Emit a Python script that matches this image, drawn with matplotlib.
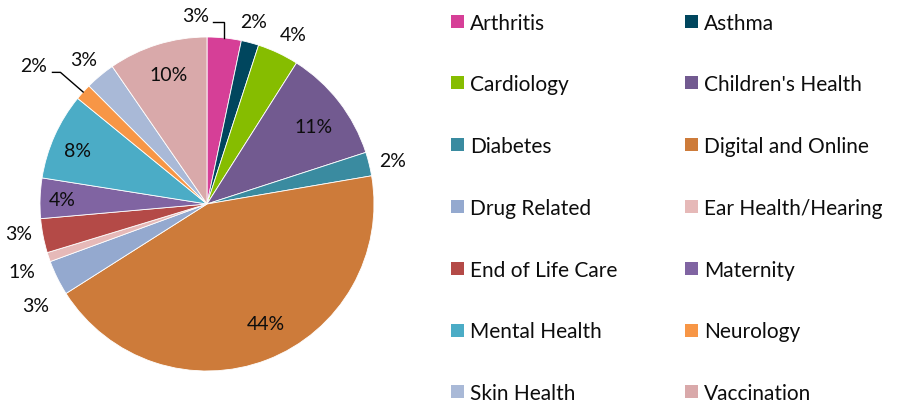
import numpy as np
import matplotlib.pyplot as plt
from matplotlib.patches import Rectangle

plt.rcParams["font.family"] = ["Lato", "DejaVu Sans"]

categories = [
    "Arthritis", "Asthma", "Cardiology", "Children's Health", "Diabetes",
    "Digital and Online", "Drug Related", "Ear Health/Hearing",
    "End of Life Care", "Maternity", "Mental Health", "Neurology",
    "Skin Health", "Vaccination",
]
shares = [3.3, 1.7, 4.0, 11.0, 2.3, 43.7, 3.4, 0.9, 3.3, 3.9, 8.4, 1.6, 2.9, 9.6]
colors = [
    "#D63F97", "#00465E", "#86BD00", "#725A90", "#3A8BA0", "#CD7B3A",
    "#94A9CF", "#E6B9B8", "#B44A47", "#8064A2", "#4BACC6", "#F79646",
    "#A9B9D7", "#D9A9AA",
]

# label placement: radial distance (pie radius = 1) and angular nudge (deg, ccw)
label_dist = [1.13, 1.13, 1.14, 0.79, 1.14, 0.80, 1.19, 1.18, 1.14, 0.87, 0.84, 1.33, 1.14, 0.81]
label_shift = [9.5, 0.8, -1.6, -1.7, -0.5, 5.1, 4.3, 1.5, -2.0, 0.4, 1.5, 3.5, 0.7, -0.6]
leader = {0: "arthritis", 11: "neuro"}

W, H, DPI = 897, 406, 100
R_PX, CX, CY = 167, 207, 205
TEXT = "#0d0d0d"
FS_PCT = 14
FS_LEG = 15

fig = plt.figure(figsize=(W / DPI, H / DPI), dpi=DPI)
ax = fig.add_axes([0, 0, 2 * CX / W, 1])
wedges, _ = ax.pie(
    shares,
    colors=colors,
    startangle=90,
    counterclock=False,
    radius=1,
    wedgeprops=dict(edgecolor="white", linewidth=0.6),
)
ax.set_aspect("auto")
ax.set_xlim(-CX / R_PX, CX / R_PX)
ax.set_ylim(-(H - CY) / R_PX, CY / R_PX)
ax.axis("off")

total = sum(shares)
for i, w in enumerate(wedges):
    mid = np.deg2rad((w.theta1 + w.theta2) / 2)
    ang = mid + np.deg2rad(label_shift[i])
    d = label_dist[i]
    tx, ty = d * np.cos(ang), d * np.sin(ang)
    ax.text(tx, ty, f"{shares[i] / total * 100:.0f}%", ha="center", va="center",
            fontsize=FS_PCT, color=TEXT)
    if i in leader:
        rx, ry = np.cos(mid), np.sin(mid)
        if leader[i] == "arthritis":
            x0 = tx + 18 / R_PX
            ax.plot([x0, rx, rx], [ty - 6 / R_PX, ty - 6 / R_PX, ry],
                    color="black", lw=1.0, solid_joinstyle="miter")
        else:
            x0 = tx + 19 / R_PX
            ax.plot([x0, x0 + 8 / R_PX, rx], [ty - 7 / R_PX, ty - 7 / R_PX, ry],
                    color="black", lw=1.0)

# legend: two columns, row-major
col_x = [451, 685]
row_y0, row_step = 22, 61.8
sq = 13
for i, name in enumerate(categories):
    r, c = divmod(i, 2)
    yc = row_y0 + r * row_step
    fig.patches.append(Rectangle(
        (col_x[c] / W, 1 - (yc + sq / 2) / H), sq / W, sq / H,
        transform=fig.transFigure, facecolor=colors[i], edgecolor="none"))
    fig.text((col_x[c] + sq + 6) / W, 1 - (yc + 7.5) / H, name,
             fontsize=FS_LEG, color=TEXT, ha="left", va="baseline")

fig.savefig("out.png", dpi=DPI)
